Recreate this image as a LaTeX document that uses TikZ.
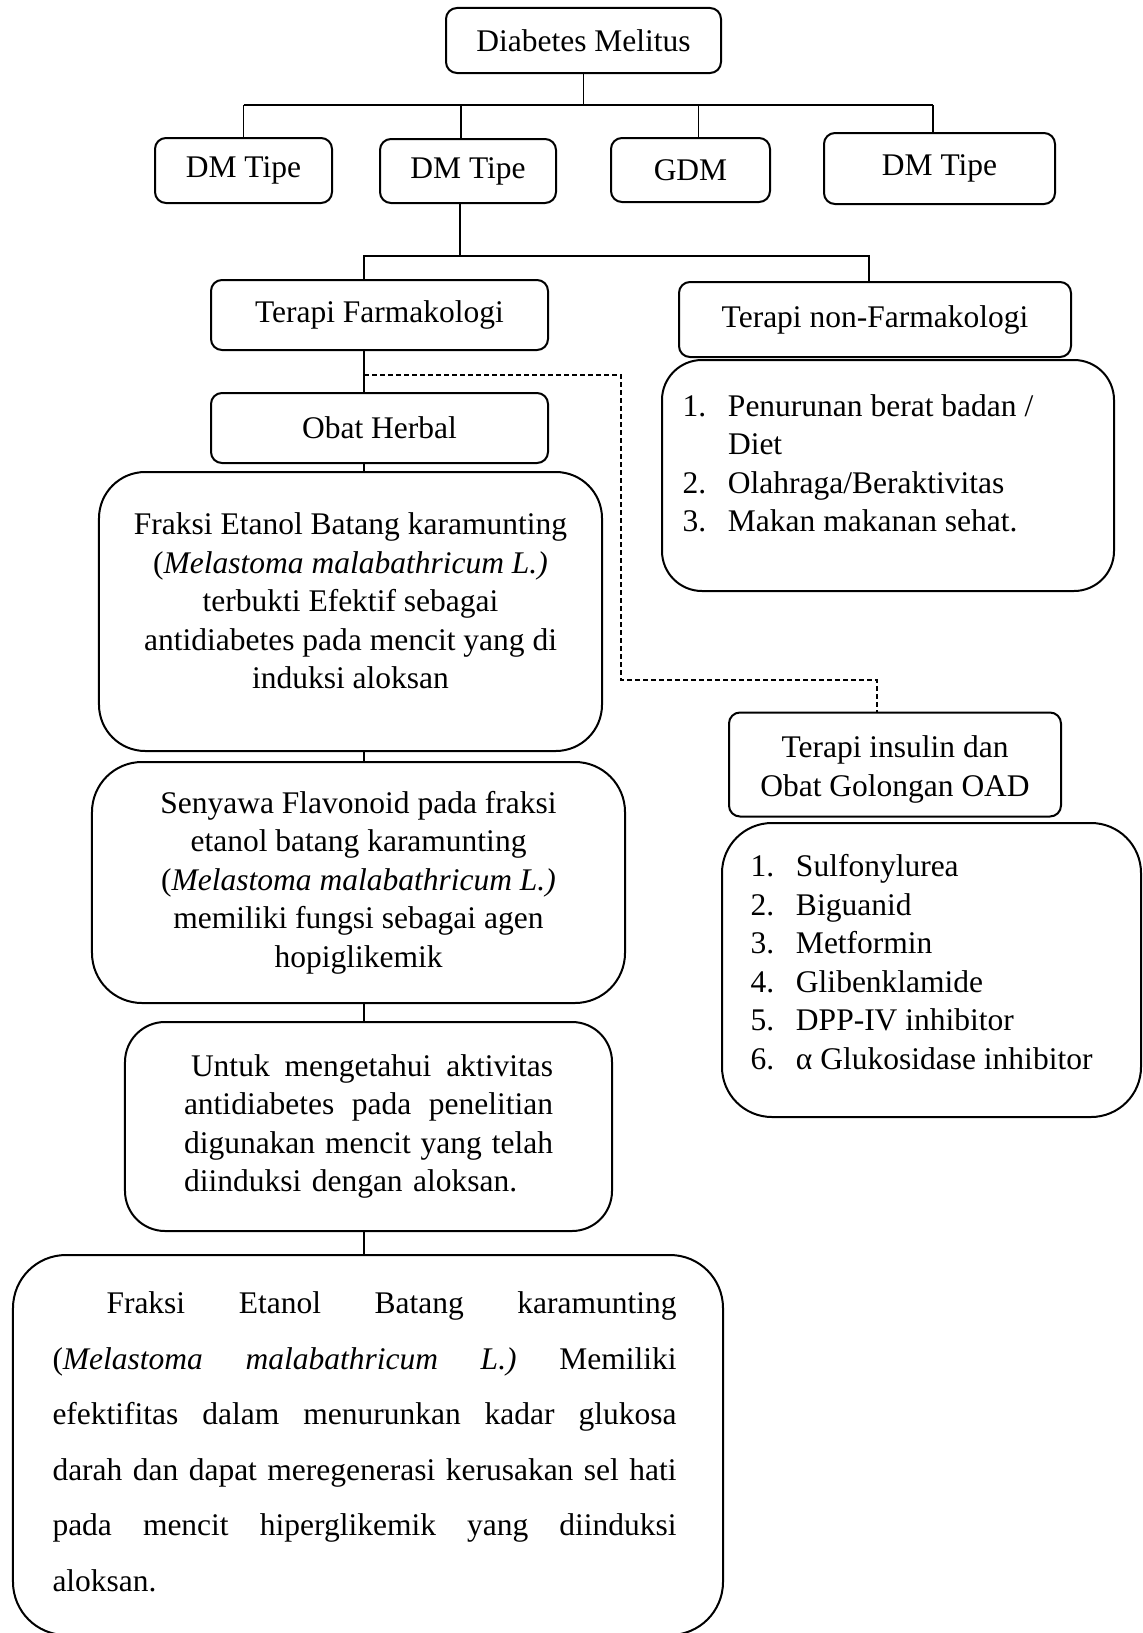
\documentclass[tikz,border=0pt]{standalone}
\usepackage{fontspec}
\setmainfont{Liberation Serif}

\newcommand{\listnum}[1]{\makebox[18.2pt][l]{#1}}
\newcommand{\fillline}[2]{{\spaceskip=0pt\xspaceskip=0pt\makebox[#1][s]{#2}}}

\tikzset{
	box/.style={draw, line width=0.8pt, rounded corners=4.4pt, align=center, inner sep=2pt},
	textblock/.style={inner sep=0pt},
	link/.style={line width=0.6pt},
	dashlink/.style={link, dash pattern=on 2pt off 1.2pt},
	listtext/.style={align=left, inner sep=0pt, anchor=north west}
}

\begin{document}
\begin{tikzpicture}[
			x=0.4pt,
			y=-0.4pt,
			font=\fontsize{12.6}{15.4}\selectfont
		]
		\useasboundingbox (0,0) rectangle (1143,1633);
		\clip (0,0) rectangle (1143,1633);
		\fill[white] (0,0) rectangle (1143,1633);

		% ---- jenis diabetes ------------------------------------------
		\node[box, minimum width=110pt, minimum height=26pt] (dm) at (583.5,40.5) {Diabetes Melitus};
		\node[box, minimum width=70.8pt, minimum height=26pt] (tipe1) at (243.5,170.5) {DM Tipe};
		\node[box, minimum width=70.4pt, minimum height=25.6pt] (tipe2) at (468,171) {DM Tipe};
		\node[box, minimum width=63.6pt, minimum height=25.6pt] (gdm) at (690.5,170) {GDM};
		\node[box, minimum width=92.4pt, minimum height=28.4pt] (tipe4) at (939.5,168.5) {DM Tipe};

		\coordinate (bar1) at (0,105);
		\draw[link] (dm.south) -- (dm.south |- bar1);
		\draw[link] (tipe1.north |- bar1) -- ([xshift=-2.6pt]tipe4.north |- bar1);
		\foreach \n/\dx in {tipe1/0, tipe2/-7, gdm/8, tipe4/-6.5} {
				\draw[link] ([xshift=\dx*0.4pt]\n.north |- bar1) -- ([xshift=\dx*0.4pt]\n.north);
			}

		% ---- terapi ---------------------------------------------------
		\node[box, minimum width=134.8pt, minimum height=28pt] (farm) at (379.5,315) {Terapi Farmakologi};
		\node[box, minimum width=156.8pt, minimum height=30pt] (nonfarm) at (875,319.5) {Terapi non-Farmakologi};

		\coordinate (bar2) at (0,256);
		\coordinate (spine) at (364,0);
		\draw[link] ([xshift=-3.2pt]tipe2.south) -- ([xshift=-3.2pt]tipe2.south |- bar2);
		\draw[link] (spine |- farm.north) -- (spine |- bar2) -- ([xshift=-2.4pt]nonfarm.north |- bar2) -- ([xshift=-2.4pt]nonfarm.north);

		% ---- non-farmakologi -----------------------------------------
		\node[box, rounded corners=16pt, minimum width=180.8pt, minimum height=92.4pt] (nonfarmlist) at (888,475.5) {};
		\node[listtext] (diet) at (682,394) {\listnum{1.}Penurunan berat badan /\\
			\hspace*{18.2pt}Diet\\
			\listnum{2.}Olahraga/Beraktivitas\\
			\listnum{3.}Makan makanan sehat.};

		% ---- jalur obat herbal ---------------------------------------
		\node[box, minimum width=134.8pt, minimum height=28pt] (herbal) at (379.5,428) {Obat Herbal};
		\node[box, rounded corners=18.5pt, minimum width=201.2pt, minimum height=111.6pt] (fraksi) at (350.5,611.5) {};
		\node[textblock, align=center] (fraksiteks) at ([yshift=4.2pt]fraksi.center) {Fraksi Etanol Batang karamunting\\
			(\textit{Melastoma malabathricum L.)}\\
			terbukti Efektif sebagai\\
			antidiabetes pada mencit yang di\\
			induksi aloksan};
		\node[box, rounded corners=20pt, minimum width=213.2pt, minimum height=96.4pt] (senyawa) at (358.5,882.5) {Senyawa Flavonoid pada fraksi\\
			etanol batang karamunting\\
			(\textit{Melastoma malabathricum L.)}\\
			memiliki fungsi sebagai agen\\
			hopiglikemik};
		\node[box, rounded corners=16pt, minimum width=194.8pt, minimum height=83.6pt, text width=147.6pt, align=left] (untuk) at (368.5,1126.5) {\fillline{147.6pt}{\hspace*{2.8pt}Untuk mengetahui aktivitas}\\
			\fillline{147.6pt}{antidiabetes pada penelitian}\\
			\fillline{147.6pt}{digunakan mencit yang telah}\\
			diinduksi dengan aloksan.};
		\node[box, rounded corners=21.2pt, minimum width=284pt, minimum height=152pt] (hasil) at (368,1445) {};
		\node[listtext, text width=249.6pt, font=\fontsize{12.6}{22.2}\selectfont] (hasilteks) at (52,1291.5) {\fillline{249.6pt}{\hspace*{21.6pt}Fraksi Etanol Batang karamunting}\\
			\fillline{249.6pt}{(\textit{Melastoma malabathricum L.)} Memiliki}\\
			\fillline{249.6pt}{efektifitas dalam menurunkan kadar glukosa}\\
			\fillline{249.6pt}{darah dan dapat meregenerasi kerusakan sel hati}\\
			\fillline{249.6pt}{pada mencit hiperglikemik yang diinduksi}\\
			aloksan.};

		\foreach \a/\b in {farm/herbal, herbal/fraksi, fraksi/senyawa, senyawa/untuk, untuk/hasil} {
				\draw[link] (spine |- \a.south) -- (spine |- \b.north);
			}

		% ---- jalur insulin dan OAD (putus-putus) ---------------------
		\node[box, minimum width=132.8pt, minimum height=41.6pt] (insulin) at (895,764.5) {};
		\node[textblock, align=center] (insulinteks) at ([yshift=-2pt]insulin.center) {Terapi insulin dan\\ Obat Golongan OAD};
		\node[box, rounded corners=20pt, minimum width=167.6pt, minimum height=117.6pt] (oadlist) at (931.5,970) {};
		\node[listtext] (oad) at (750,854) {\listnum{1.}Sulfonylurea\\
			\listnum{2.}Biguanid\\
			\listnum{3.}Metformin\\
			\listnum{4.}Glibenklamide\\
			\listnum{5.}DPP-IV inhibitor\\
			\listnum{6.}α Glukosidase inhibitor};

		\coordinate (split) at (364,375);
		\coordinate (elbow) at (621,680);
		\draw[dashlink] (split) -| (elbow) -| ([xshift=-7.2pt]insulin.north);
	\end{tikzpicture}
\end{document}
